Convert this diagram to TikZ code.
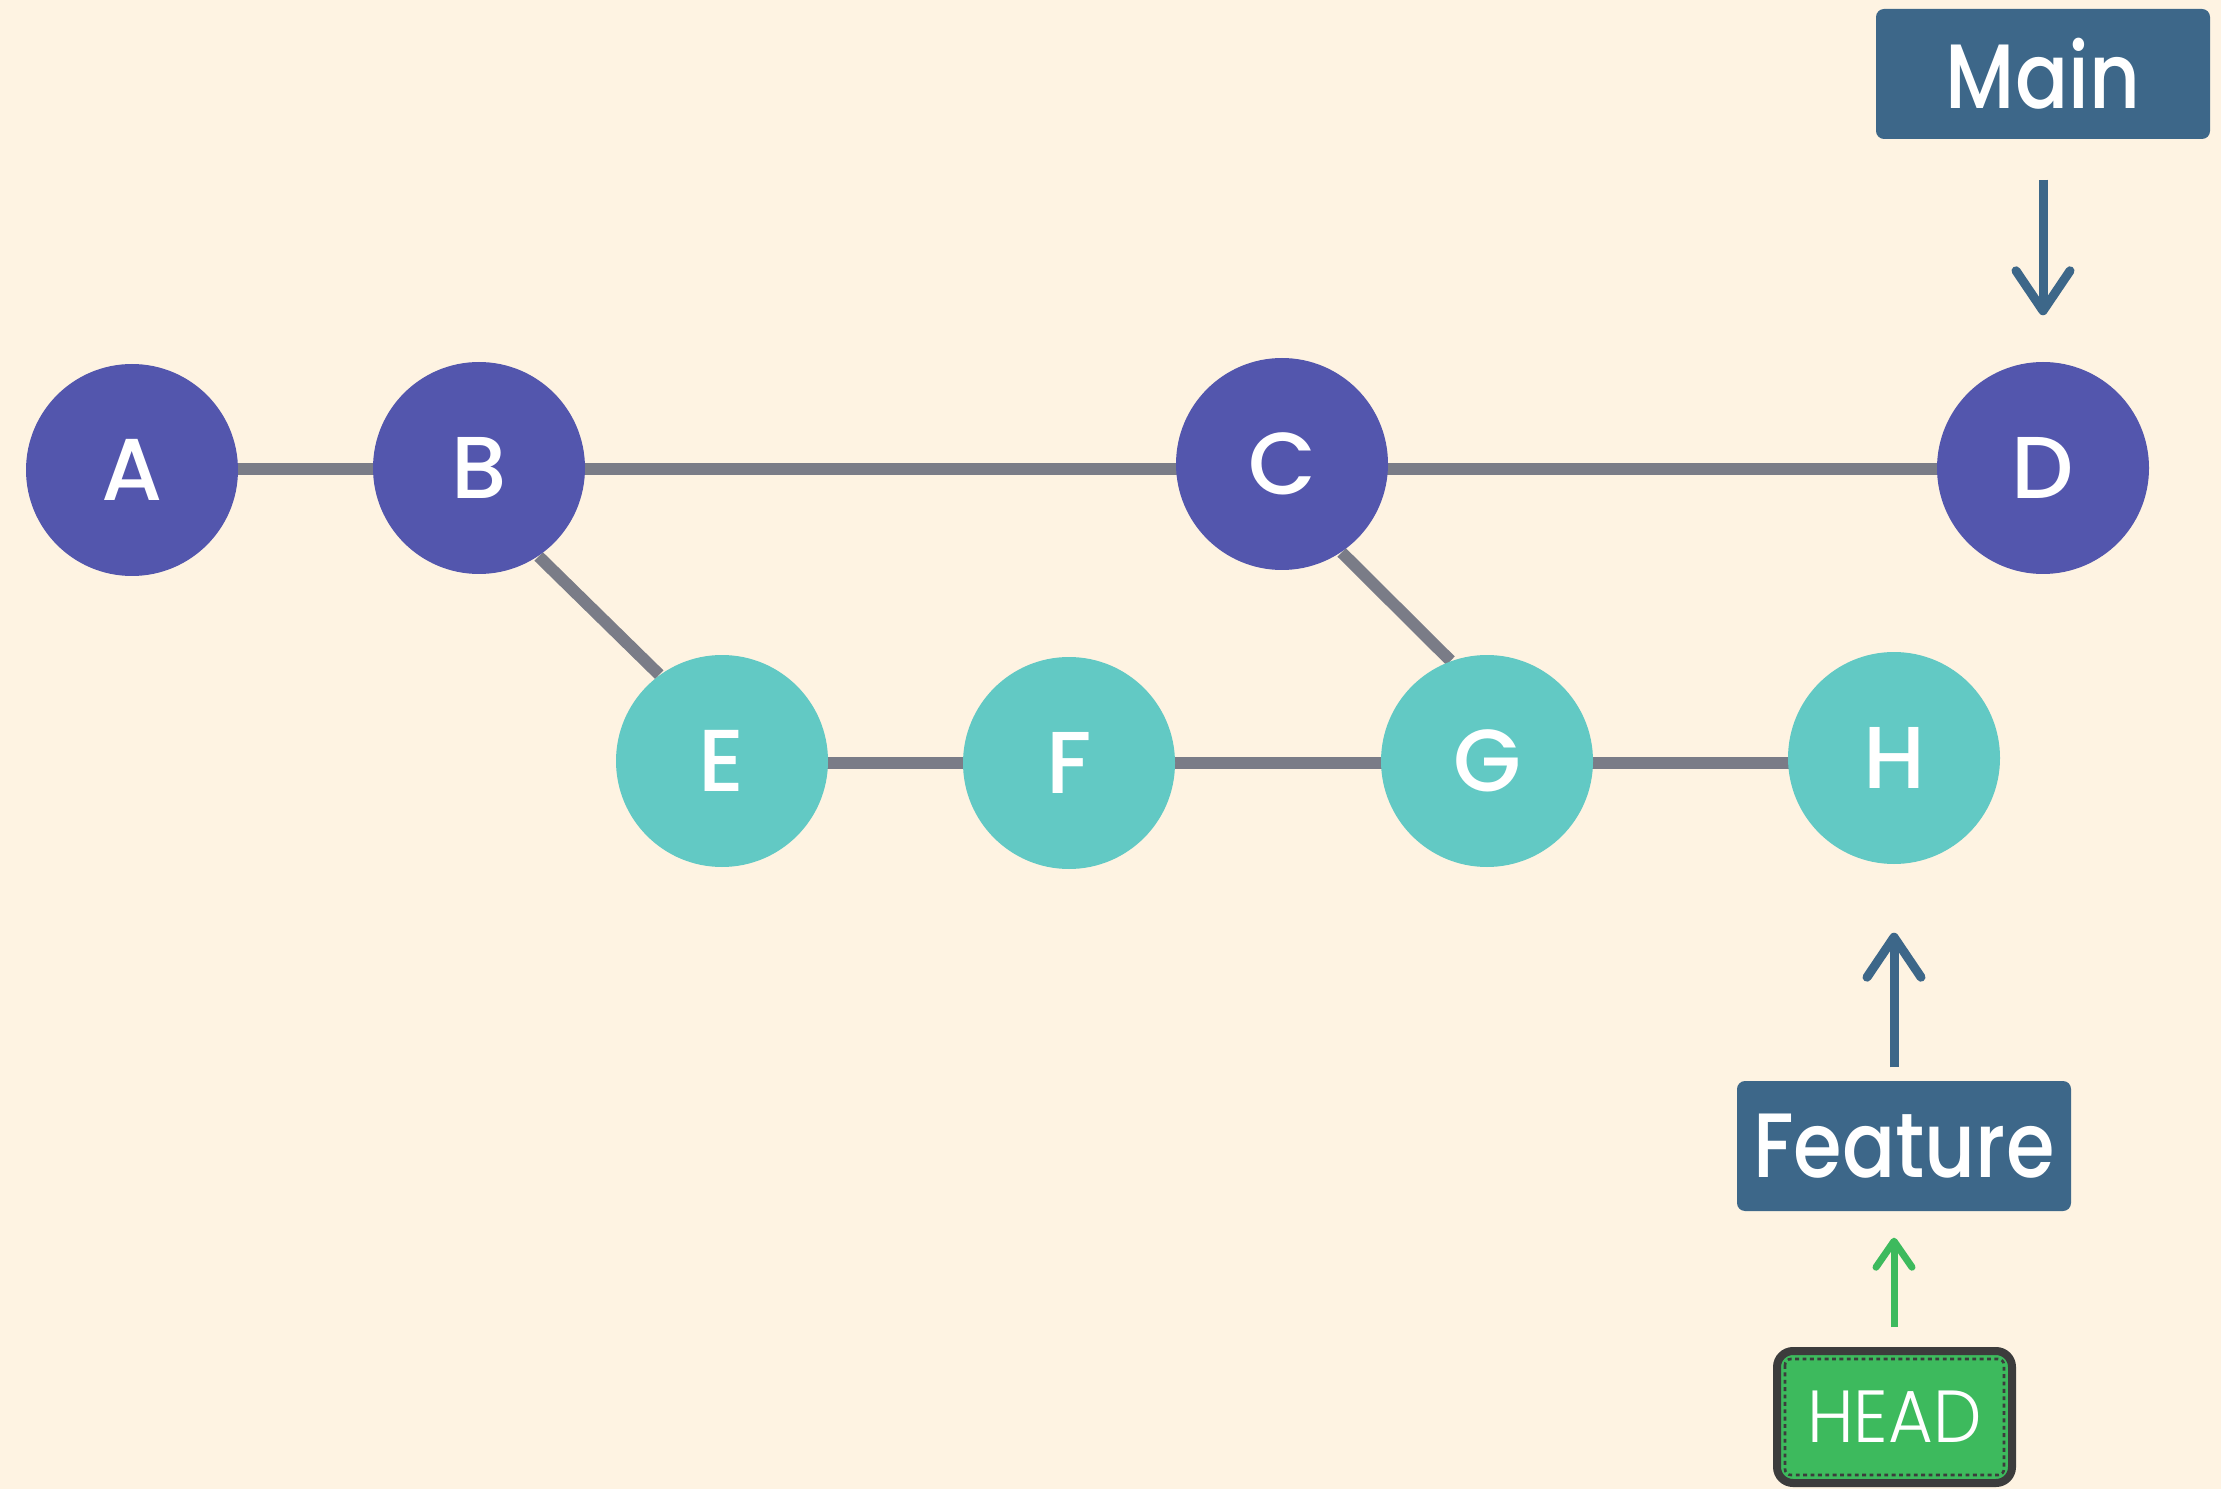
\documentclass[tikz,border=0pt]{standalone}
\usepackage{fontspec}
\setmainfont{Poppins}
\newfontfamily\medfont{Poppins Medium}
\newfontfamily\medcondfont{Poppins Medium}[FakeStretch=0.86]
\newfontfamily\lightfont{Poppins Light}[FakeStretch=0.93]
\usetikzlibrary{arrows.meta}
\pgfdeclarelayer{background}
\pgfsetlayers{background,main}
\definecolor{bg}{HTML}{FEF3E2}
\definecolor{mainc}{HTML}{5356AD}
\definecolor{featc}{HTML}{62C9C4}
\definecolor{edgec}{HTML}{7A7C87}
\definecolor{boxc}{HTML}{3D6789}
\definecolor{headc}{HTML}{3DBA5D}
\definecolor{headb}{HTML}{3C3C3C}
\tikzset{
  commit/.style={circle, minimum size=21.2mm, inner sep=0pt, text=white, font=\medfont\fontsize{25}{25}\selectfont},
  maincommit/.style={commit, fill=mainc},
  featcommit/.style={commit, fill=featc},
  edge/.style={draw=edgec, line width=1.2mm},
  branchbox/.style={fill=boxc, rounded corners=0.8mm, minimum width=33.4mm, minimum height=13mm, inner sep=0pt, text=white, font=\medcondfont\fontsize{26}{26}\selectfont},
  headbox/.style={fill=headc, draw=headb, line width=0.8mm, rounded corners=1.6mm, minimum width=23.5mm, minimum height=13.2mm, inner sep=0pt, text=white, font=\lightfont\fontsize{21}{21}\selectfont},
  ptr/.style={draw=boxc, line width=0.9mm, -{Straight Barb[length=4mm, width=5.4mm, line cap=round, line join=round]}},
  headptr/.style={draw=headc, line width=0.7mm, -{Straight Barb[length=2.6mm, width=3.6mm, line cap=round, line join=round]}}
}
\begin{document}
\begin{tikzpicture}[x=0.1mm, y=-0.1mm]
\begin{pgfonlayer}{background}
\fill[bg] (0,0) rectangle (2221,1489);
\end{pgfonlayer}
\useasboundingbox (0,0) rectangle (2221,1489);
% commits
\node[maincommit] (A) at (132,470) {A};
\node[maincommit] (B) at (479,468) {B};
\node[maincommit] (C) at (1282,464) {C};
\node[maincommit] (D) at (2043,468) {D};
\node[featcommit] (E) at (722,761) {E};
\node[featcommit] (F) at (1069,763) {F};
\node[featcommit] (G) at (1487,761) {G};
\node[featcommit] (H) at (1894,758) {H};
% edges (behind the commits)
\coordinate (mainrow) at (0,469);
\coordinate (featrow) at (0,763);
\begin{pgfonlayer}{background}
\draw[edge] (A |- mainrow) -- (D |- mainrow);
\draw[edge] (E |- featrow) -- (H |- featrow);
\draw[edge] (B.-56) -- (E.126);
\draw[edge] (C.-56) -- (G.110);
\end{pgfonlayer}
% branch labels
\node[branchbox] (Main) at (2043,74) {Main};
\node[branchbox] (Feature) at (1904,1146) {Feature};
\node[headbox] (HEAD) at (1894.5,1417) {HEAD};
\draw[headb, line width=0.75pt, dash pattern=on 1.1pt off 1pt, rounded corners=0.6mm]
  ([xshift=1.2mm,yshift=-1.2mm]HEAD.north west) rectangle ([xshift=-1.2mm,yshift=1.2mm]HEAD.south east);
% pointers
\draw[ptr, shorten <=4mm, shorten >=4.6mm] (Main) -- (D);
\draw[ptr, shorten <=1.3mm, shorten >=6.8mm] (Feature.north -| H) -- (H);
\draw[headptr, shorten <=2mm, shorten >=2.6mm] (HEAD.north -| H) -- (Feature.south -| H);
\end{tikzpicture}
\end{document}
